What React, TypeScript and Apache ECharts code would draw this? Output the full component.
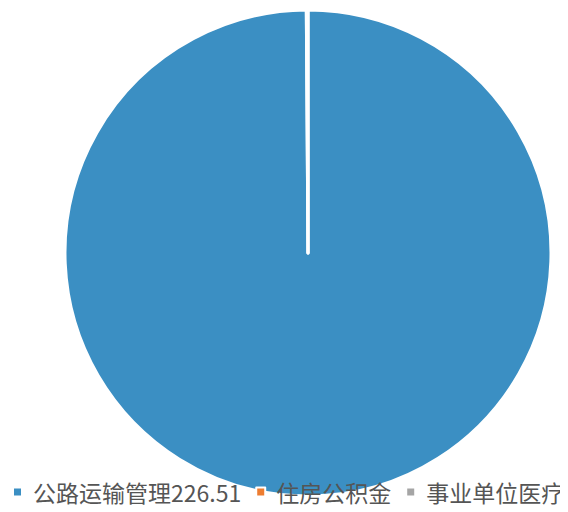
import React, { useEffect, useRef } from "react";
import * as echarts from "echarts";

const categories = ["公路运输管理", "住房公积金", "事业单位医疗"];
const values = [226.51, 0.2, 0.05];
const legendSuffix = ["226.51", "", ""];
const colors = ["#3b8fc3", "#ed7d31", "#a5a5a5"];

export default function App() {
  const ref = useRef<HTMLDivElement>(null);
  useEffect(() => {
    const chart = echarts.init(ref.current!, undefined, { renderer: "svg" });
    chart.setOption({
      animation: false,
      color: colors,
      legend: {
        top: 472,
        left: 4,
        padding: 0,
        itemWidth: 9,
        itemHeight: 9,
        itemGap: 14,
        icon: "rect",
        textStyle: {
          fontSize: 23,
          lineHeight: 24,
          color: "#555555",
          fontFamily: "Noto Sans CJK SC",
          padding: [0, 0, 0, 6],
        },
        formatter: (name: string) => name + legendSuffix[categories.indexOf(name)],
        data: categories,
      },
      series: [
        {
          type: "pie",
          center: [300, 245],
          radius: 243,
          startAngle: 90,
          clockwise: true,
          label: { show: false },
          labelLine: { show: false },
          itemStyle: { borderColor: "#ffffff", borderWidth: 3 },
          data: categories.map((c, i) => ({ name: c, value: values[i] })),
        },
      ],
    });
    return () => chart.dispose();
  }, []);
  return <div ref={ref} style={{ width: 560, height: 504 }} />;
}
